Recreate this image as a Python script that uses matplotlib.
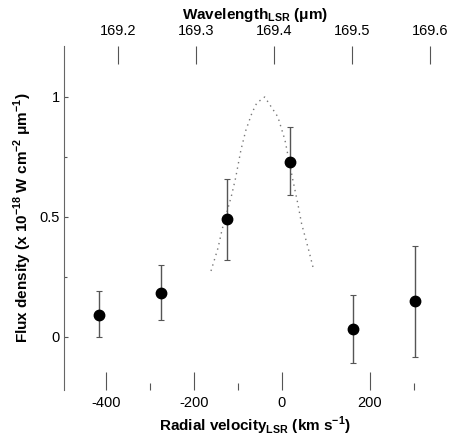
import numpy as np
import matplotlib
matplotlib.use("Agg")
import matplotlib.pyplot as plt
from matplotlib.ticker import FixedLocator

plt.rcParams['font.family'] = ['Liberation Sans', 'DejaVu Sans']
plt.rcParams['mathtext.fontset'] = 'custom'
plt.rcParams['mathtext.rm'] = 'Liberation Sans'
plt.rcParams['mathtext.bf'] = 'Liberation Sans:bold'

# measured points
velocity = [-416, -275, -125, 18, 161, 302]
flux = [0.092, 0.183, 0.49, 0.73, 0.033, 0.15]
err_low = [0.092, 0.113, 0.17, 0.14, 0.143, 0.233]
err_high = [0.098, 0.117, 0.17, 0.145, 0.142, 0.23]

# dotted model line
model_v = [-161, -145, -136, -114, -105, -93, -82, -68, -57, -39, -9, 7, 25, 36, 45, 61, 73]
model_f = [0.275, 0.371, 0.446, 0.592, 0.663, 0.779, 0.86, 0.933, 0.975, 1.0,
           0.917, 0.821, 0.654, 0.558, 0.471, 0.362, 0.275]

wave_ticks = [169.2, 169.3, 169.4, 169.5, 169.6]
c_kms = 299792.458
lam0 = 169.41

fig = plt.figure(figsize=(4.51, 4.41), dpi=100)
ax = fig.add_axes([64 / 451, 51 / 441, 382 / 451, 344 / 441])

ax.plot(model_v, model_f, linestyle=(0, (1, 3)), color='#777777', linewidth=1.0)
ax.errorbar(velocity, flux, yerr=[err_low, err_high], fmt='o', color='black',
            markersize=7.5, ecolor='#555555', elinewidth=1.0, capsize=2, capthick=0.8)

ax.set_xlim(-495, 373)
ax.set_ylim(-0.221, 1.2125)

for s in ['top', 'right', 'bottom']:
    ax.spines[s].set_visible(False)
ax.spines['left'].set_color('#666666')
ax.spines['left'].set_linewidth(0.8)

ax.xaxis.set_major_locator(FixedLocator([-400, -200, 0, 200]))
ax.xaxis.set_minor_locator(FixedLocator([-300, -100, 300]))
ax.set_xticklabels(['-400', '-200', '0', '200'])
ax.tick_params(axis='x', which='major', direction='in', length=13, width=0.8,
               color='#555555', labelsize=10.5, pad=4)
ax.tick_params(axis='x', which='minor', direction='in', length=5, width=0.8, color='#555555')

ax.yaxis.set_major_locator(FixedLocator([0, 0.5, 1]))
ax.yaxis.set_minor_locator(FixedLocator([0.25, 0.75]))
ax.set_yticklabels(['0', '0.5', '1'])
ax.tick_params(axis='y', which='major', direction='in', length=3, width=0.8,
               color='#555555', labelsize=10.5, pad=3)
ax.tick_params(axis='y', which='minor', direction='in', length=2, width=0.8, color='#555555')

ax.set_xlabel(r'Radial velocity$_{\mathbf{LSR}}$ (km s$^{\mathbf{-1}}$)',
              fontsize=11, fontweight='bold', labelpad=4)
ax.set_ylabel(r'Flux density (x 10$^{\mathbf{-18}}$ W cm$^{\mathbf{-2}}$ μm$^{\mathbf{-1}}$)',
              fontsize=11, fontweight='bold', labelpad=4)

sec = ax.secondary_xaxis('top', functions=(lambda v: lam0 * (1 + v / c_kms),
                                           lambda l: (l / lam0 - 1) * c_kms))
sec.xaxis.set_major_locator(FixedLocator(wave_ticks))
sec.set_xticklabels([str(w) for w in wave_ticks])
sec.spines['top'].set_visible(False)
sec.tick_params(axis='x', direction='in', length=13, width=0.8, color='#555555',
                labelsize=10.5, pad=6)
sec.set_xlabel(r'Wavelength$_{\mathbf{LSR}}$ (μm)', fontsize=11, fontweight='bold', labelpad=3)

fig.savefig('out.png', dpi=100)
